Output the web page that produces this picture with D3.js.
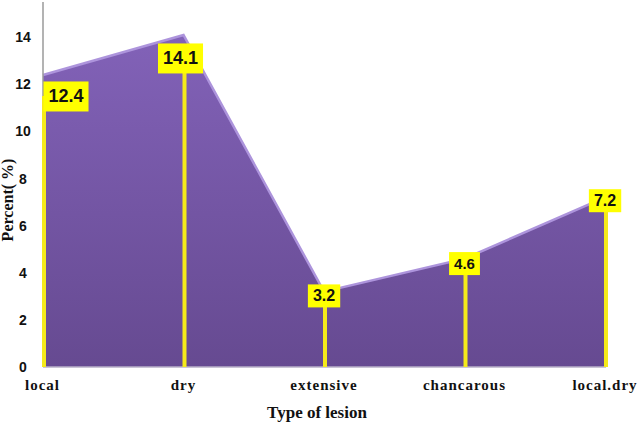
<!DOCTYPE html>
<html>
<head>
<meta charset="utf-8">
<script src="https://cdn.jsdelivr.net/npm/d3@7"></script>
<style>
  body{margin:0;background:#fff;}
  svg{display:block;}
</style>
</head>
<body>
<div id="chart"></div>
<script>
// data
var categories = ["local", "dry", "extensive", "chancarous", "local.dry"];
var percents = [12.4, 14.1, 3.2, 4.6, 7.2];
var yTicks = [0, 2, 4, 6, 8, 10, 12, 14];

var W = 638, H = 425;
var svg = d3.select("#chart").append("svg")
    .attr("width", W)
    .attr("height", H);

var x = d3.scalePoint()
    .domain(categories)
    .range([43, 605]);
var y = d3.scaleLinear()
    .domain([0, 15.5])
    .range([367, 2]);

// gradient for the area
var defs = svg.append("defs");
var grad = defs.append("linearGradient")
    .attr("id", "purp")
    .attr("x1", 0).attr("y1", 0).attr("x2", 0).attr("y2", 1);
grad.append("stop").attr("offset", "0%").attr("stop-color", "#8262b8");
grad.append("stop").attr("offset", "100%").attr("stop-color", "#664a91");

var pts = categories.map(function(c, i){ return {c: c, v: percents[i]}; });

var area = d3.area()
    .x(function(d){ return x(d.c); })
    .y0(y(0))
    .y1(function(d){ return y(d.v); });
var line = d3.line()
    .x(function(d){ return x(d.c); })
    .y(function(d){ return y(d.v); });

svg.append("path")
    .datum(pts)
    .attr("d", area)
    .attr("fill", "url(#purp)");
// light top edge
svg.append("path")
    .datum(pts)
    .attr("d", line)
    .attr("fill", "none")
    .attr("stroke", "#ad94dc")
    .attr("stroke-width", 2.5);

// axes
svg.append("line")
    .attr("x1", 43).attr("x2", 43)
    .attr("y1", 2).attr("y2", y(0))
    .attr("stroke", "#9a9a9a").attr("stroke-width", 1.5);
svg.append("line")
    .attr("x1", 43).attr("x2", 606)
    .attr("y1", y(0)).attr("y2", y(0))
    .attr("stroke", "#b8b0c8").attr("stroke-width", 1.5);

svg.selectAll(".ytick")
    .data(yTicks)
    .enter().append("text")
    .attr("class", "ytick")
    .attr("x", 23)
    .attr("y", function(d){ return y(d); })
    .attr("dy", "0.35em")
    .attr("text-anchor", "middle")
    .attr("font-family", "'Liberation Sans', Arial, sans-serif")
    .attr("font-weight", "bold")
    .attr("font-size", 14)
    .attr("fill", "#111")
    .text(function(d){ return d; });

svg.selectAll(".xtick")
    .data(categories)
    .enter().append("text")
    .attr("class", "xtick")
    .attr("x", function(d, i){
      if(i == 0) return 25;
      return x(d);
    })
    .attr("y", 390)
    .attr("text-anchor", function(d, i){ return i == 0 ? "start" : "middle"; })
    .attr("font-family", "'Liberation Serif', 'Times New Roman', serif")
    .attr("font-weight", "bold")
    .attr("font-size", 15)
    .attr("letter-spacing", 1)
    .attr("fill", "#111")
    .text(function(d){ return d; });

svg.append("text")
    .attr("x", 317).attr("y", 418)
    .attr("text-anchor", "middle")
    .attr("font-family", "'Liberation Serif', 'Times New Roman', serif")
    .attr("font-weight", "bold")
    .attr("font-size", 17)
    .attr("fill", "#111")
    .text("Type of lesion");

svg.append("text")
    .attr("transform", "translate(13,200) rotate(-90)")
    .attr("text-anchor", "middle")
    .attr("font-family", "'Liberation Serif', 'Times New Roman', serif")
    .attr("font-weight", "bold")
    .attr("font-size", 16)
    .attr("fill", "#111")
    .text("Percent( %)");

// value labels with stems (layout offsets per label)
var labelDx = [23, -3, 0, 0, 0];
var labelDy = [21, 23, 4, 5, 3];
var labelFs = [18, 18, 16, 15, 16];

var lab = svg.selectAll(".lab")
    .data(pts)
    .enter().append("g")
    .attr("class", "lab");

lab.append("line")
    .attr("x1", function(d){ return x(d.c) + 1; })
    .attr("x2", function(d){ return x(d.c) + 1; })
    .attr("y1", function(d, i){ return y(d.v) + labelDy[i]; })
    .attr("y2", y(0))
    .attr("stroke", "#f5ea1a")
    .attr("stroke-width", 4);

lab.each(function(d, i){
  var g = d3.select(this);
  var cx = x(d.c) + labelDx[i];
  var cy = y(d.v) + labelDy[i];
  var t = g.append("text")
      .attr("x", cx).attr("y", cy)
      .attr("dy", "0.36em")
      .attr("text-anchor", "middle")
      .attr("font-family", "'Liberation Sans', Arial, sans-serif")
      .attr("font-weight", "bold")
      .attr("font-size", labelFs[i])
      .attr("fill", "#111")
      .text(d3.format(".1f")(d.v));
  var bb = t.node().getBBox();
  var pad = i < 2 ? 5 : 3;
  g.insert("rect", "text")
      .attr("x", bb.x - 5).attr("y", bb.y - pad)
      .attr("width", bb.width + 10).attr("height", bb.height + pad * 2)
      .attr("fill", "#ffff00");
});
</script>
</body>
</html>
